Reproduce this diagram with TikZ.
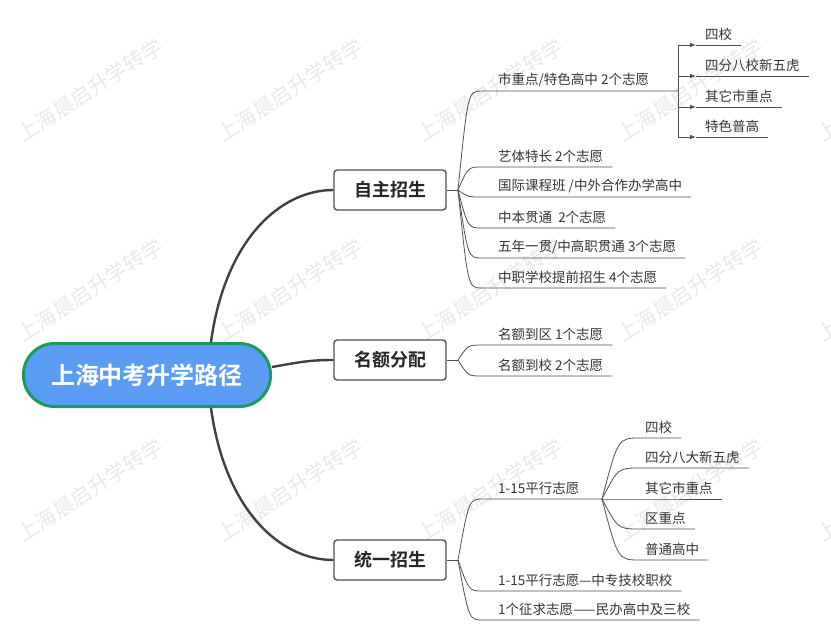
\documentclass[tikz,border=0pt]{standalone}
\usepackage{fontspec}
\setmainfont{Noto Sans CJK SC}[BoldFont={Noto Sans CJK SC Bold}]
\usetikzlibrary{arrows.meta}

\definecolor{rootblue}{HTML}{5B9CF4}
\definecolor{rootgreen}{HTML}{1B9A5E}
\definecolor{linegray}{HTML}{505050}

\tikzset{
  root/.style={draw=rootgreen, line width=3pt, fill=rootblue, rounded corners=31pt,
    minimum width=247pt, minimum height=63pt, text=white,
    font=\fontsize{24}{28}\selectfont\bfseries},
  topic/.style={draw=linegray, line width=1.4pt, rounded corners=3pt, fill=white,
    minimum width=112pt, minimum height=40pt, text=black!85,
    font=\fontsize{18}{22}\selectfont\bfseries},
  leaf/.style={anchor=south west, inner xsep=9pt, inner ysep=4pt, text=black!80,
    font=\fontsize{13.5}{16}\selectfont},
  trunk/.style={draw=black!75, line width=2.4pt},
  twig/.style={draw=linegray, line width=0.8pt},
  tip/.style={-{Latex[length=6pt,width=4.5pt]}},
  wmark/.style={text=black!9, rotate=33, font=\fontsize{21}{24}\selectfont}
}

\begin{document}
\begin{tikzpicture}[x=1pt,y=-1pt]
    \useasboundingbox (0,0) rectangle (831,641);
    % watermark
    \foreach \wx in {90,290,490,690,890}
      \foreach \wy in {90,290,490}
        \node[wmark] (w-\wx-\wy) at (\wx,\wy) {上海晨启升学转学};

    % root and topics
    \node[root] (root) at (147,375) {上海中考升学路径};
    \node[topic] (t1) at (390,190) {自主招生};
    \node[topic] (t2) at (390,360) {名额分配};
    \node[topic] (t3) at (390,560) {统一招生};
    \draw[trunk] ([xshift=64pt]root.north) .. controls (225,240) and (280,190) .. (t1.west);
    \draw[trunk] ([yshift=8pt]root.east) .. controls (300,362) and (310,360) .. (t2.west);
    \draw[trunk] ([xshift=64pt]root.south) .. controls (225,510) and (280,560) .. (t3.west);

    % 自主招生
    \coordinate (z1) at (458,190);
    \draw[twig] (t1.east) -- (z1);
    \node[leaf] (a1) at (489,91) {市重点/特色高中 2个志愿};
    \node[leaf] (a2) at (489,167) {艺体特长 2个志愿};
    \node[leaf] (a3) at (489,197) {国际课程班 /中外合作办学高中};
    \node[leaf] (a4) at (489,228) {中本贯通~ 2个志愿};
    \node[leaf] (a5) at (489,258) {五年一贯/中高职贯通 3个志愿};
    \node[leaf] (a6) at (489,288) {中职学校提前招生 4个志愿};
    \coordinate (brk) at (678,91);
    \draw[twig] (z1) .. controls (468,91) .. (482,91) -- (a1.south east) -- (brk);
    \draw[twig] (z1) .. controls (468,167) .. (482,167) -- (a2.south east);
    \draw[twig] (z1) .. controls (468,197) .. (482,197) -- (a3.south east);
    \draw[twig] (z1) .. controls (468,228) .. (482,228) -- (a4.south east);
    \draw[twig] (z1) .. controls (468,258) .. (482,258) -- (a5.south east);
    \draw[twig] (z1) .. controls (468,288) .. (482,288) -- (a6.south east);

    % 市重点 bracket
    \coordinate (k1) at (678,45);
    \coordinate (k2) at (678,76);
    \coordinate (k3) at (678,107);
    \coordinate (k4) at (678,137);
    \node[leaf] (e1) at (696,45) {四校};
    \node[leaf] (e2) at (696,76) {四分八校新五虎};
    \node[leaf] (e3) at (696,107) {其它市重点};
    \node[leaf] (e4) at (696,137) {特色普高};
    \draw[twig] (k1) -- (k4);
    \foreach \i in {1,2,3,4} {
      \draw[twig, tip] (k\i) -- (e\i.south west);
      \draw[twig] (e\i.south west) -- (e\i.south east);
    }

    % 名额分配
    \coordinate (z2) at (458,360);
    \draw[twig] (t2.east) -- (z2);
    \node[leaf] (b1) at (489,345) {名额到区 1个志愿};
    \node[leaf] (b2) at (489,376) {名额到校 2个志愿};
    \draw[twig] (z2) .. controls (468,345) .. (482,345) -- (b1.south east);
    \draw[twig] (z2) .. controls (468,376) .. (482,376) -- (b2.south east);

    % 统一招生
    \coordinate (z3) at (458,560);
    \draw[twig] (t3.east) -- (z3);
    \node[leaf] (c1) at (489,499) {1-15平行志愿};
    \node[leaf] (c2) at (489,591) {1-15平行志愿—中专技校职校};
    \node[leaf] (c3) at (489,620) {1个征求志愿——民办高中及三校};
    \coordinate (zc) at (602,499);
    \draw[twig] (z3) .. controls (469,499) .. (483,499) -- (c1.south east) -- (zc);
    \draw[twig] (z3) .. controls (469,591) .. (483,591) -- (c2.south east);
    \draw[twig] (z3) .. controls (469,620) .. (483,620) -- (c3.south east);
    \node[leaf] (d1) at (636,438) {四校};
    \node[leaf] (d2) at (636,468) {四分八大新五虎};
    \node[leaf] (d3) at (636,499) {其它市重点};
    \node[leaf] (d4) at (636,529) {区重点};
    \node[leaf] (d5) at (636,560) {普通高中};
    \draw[twig] (zc) .. controls (618,438) .. (640,438) -- (d1.south east);
    \draw[twig] (zc) .. controls (618,468) .. (640,468) -- (d2.south east);
    \draw[twig] (zc) .. controls (618,499) .. (640,499) -- (d3.south east);
    \draw[twig] (zc) .. controls (618,529) .. (640,529) -- (d4.south east);
    \draw[twig] (zc) .. controls (618,560) .. (640,560) -- (d5.south east);
\end{tikzpicture}
\end{document}
